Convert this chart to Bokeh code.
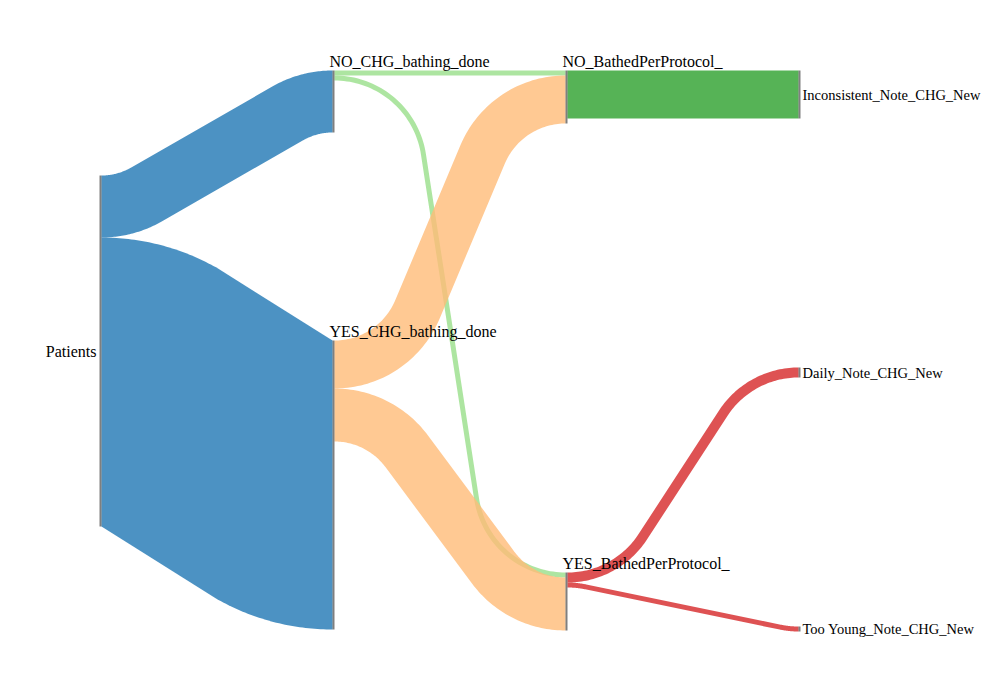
import math
from bokeh.plotting import figure
from bokeh.models import ColumnDataSource, Range1d
from bokeh.embed import file_html
from bokeh.resources import INLINE
from bokeh.core.properties import value

# ---- data ----
nodes = ["Patients", "NO_CHG_bathing_done", "YES_CHG_bathing_done",
         "NO_BathedPerProtocol_", "YES_BathedPerProtocol_",
         "Inconsistent_Note_CHG_New", "Daily_Note_CHG_New", "Too Young_Note_CHG_New"]
node_column = [0, 1, 1, 2, 2, 3, 3, 3]
link_source = [0, 0, 1, 1, 2, 2, 3, 4, 4]
link_target = [1, 2, 3, 4, 3, 4, 5, 6, 7]
link_value = [62, 289, 5, 5, 48, 53, 48, 10, 5]

# ---- layout / style ----
node_top = [175, 70, 340, 70, 572, 70, 367, 626]
node_color = ["#1f77b4", "#98df8a", "#ffbb78", "#2ca02c", "#d62728",
              "#9467bd", "#8c564b", "#e377c2"]
col_x0, col_step, node_w = 99, 233, 2
bend_radius = 90
FONT = "Liberation Serif"

n = len(nodes)
node_x = [col_x0 + c * col_step for c in node_column]
in_sum = [0] * n
out_sum = [0] * n
for s, t, v in zip(link_source, link_target, link_value):
    out_sum[s] += v
    in_sum[t] += v
node_h = [max(a, b) for a, b in zip(in_sum, out_sum)]


def link_polygon(xs, ys, xt, yt, h, r0=bend_radius, m=40):
    """Band of half-width h following arc-line-arc path from (xs,ys) to (xt,yt)."""
    D = xt - xs
    H = abs(yt - ys)
    sg = 1 if yt >= ys else -1
    if H < 1e-6:
        up = [(0, -h), (D, -h)]
        lo = [(0, h), (D, h)]
    else:
        r = min(r0, (D * D + H * H) / (4 * H))
        A, B = D / 2, H / 2 - r
        R = math.hypot(A, B)
        th = math.atan2(B, A) + math.asin(min(1.0, r / R))
        phis = [th * i / m for i in range(m + 1)]
        c1 = (0.0, r)
        c2 = (D, H - r)
        up = [(c1[0] + (r + h) * math.sin(f), c1[1] - (r + h) * math.cos(f)) for f in phis]
        if r - h >= 0:
            up += [(c2[0] - (r - h) * math.sin(f), c2[1] + (r - h) * math.cos(f)) for f in reversed(phis)]
        else:
            up += [(D, H - h)]
        if r - h >= 0:
            lo = [(c1[0] + (r - h) * math.sin(f), c1[1] - (r - h) * math.cos(f)) for f in phis]
        else:
            lo = [(0.0, h)]
        lo += [(c2[0] - (r + h) * math.sin(f), c2[1] + (r + h) * math.cos(f)) for f in reversed(phis)]
    pts = up + list(reversed(lo))
    return [xs + p[0] for p in pts], [ys + sg * p[1] for p in pts]


out_off = list(node_top)
in_off = list(node_top)
pxs, pys, pcs = [], [], []
for s, t, v in zip(link_source, link_target, link_value):
    ys = out_off[s] + v / 2
    yt = in_off[t] + v / 2
    out_off[s] += v
    in_off[t] += v
    X, Y = link_polygon(node_x[s] + node_w, ys, node_x[t], yt, v / 2)
    pxs.append(X)
    pys.append(Y)
    pcs.append(node_color[s])

p = figure(width=984, height=684, output_backend="svg", toolbar_location=None,
           x_range=Range1d(0, 984), y_range=Range1d(684, 0),
           x_axis_type=None, y_axis_type=None, min_border=0)
p.outline_line_color = None
p.xgrid.visible = False
p.ygrid.visible = False
p.background_fill_color = "white"
p.border_fill_color = "white"

# links
p.patches(xs=pxs, ys=pys, fill_color=pcs, fill_alpha=0.8, line_color=None)

# nodes
p.quad(left=node_x, right=[x + node_w for x in node_x],
       top=node_top, bottom=[t + h for t, h in zip(node_top, node_h)],
       fill_color="black", fill_alpha=0.5, line_color=None)

# labels
lx, ly, lt, la, lf = [], [], [], [], []
for i in range(n):
    c = node_column[i]
    if c == 0:
        lx.append(node_x[i] - 3); ly.append(node_top[i] + node_h[i] / 2)
        la.append("right"); lf.append("16px")
    elif c == 3:
        lx.append(node_x[i] + node_w + 2); ly.append(node_top[i] + node_h[i] / 2)
        la.append("left"); lf.append("14.5px")
    else:
        lx.append(node_x[i] - 3); ly.append(node_top[i] - 9)
        la.append("left"); lf.append("16px")
    lt.append(nodes[i])
src = ColumnDataSource(dict(x=lx, y=ly, t=lt, a=la, f=lf))
p.text(x="x", y="y", text="t", text_align="a", text_baseline="middle", source=src,
       text_font=value(FONT), text_font_size="f", text_color="black")

open("out.html", "w").write(file_html(p, INLINE))
